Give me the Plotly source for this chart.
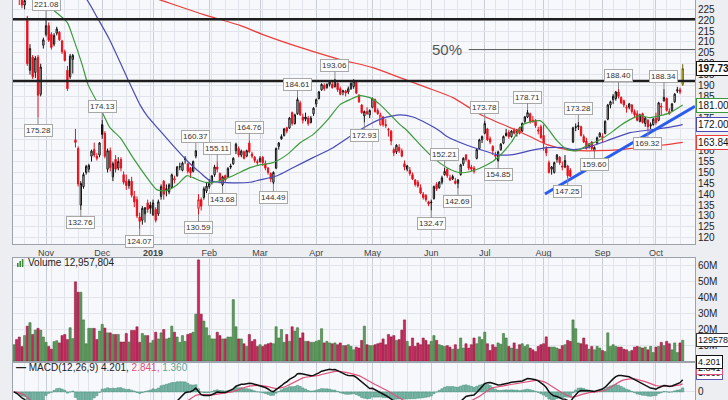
import numpy as np
import pandas as pd
import plotly.graph_objects as go
from plotly.subplots import make_subplots

# ---------------- trading calendar ----------------
HOLIDAYS = ["2018-11-22", "2018-12-05", "2018-12-25", "2019-01-01", "2019-01-21",
            "2019-02-18", "2019-04-19", "2019-05-27", "2019-07-04", "2019-09-02"]
DAYS = [d for d in pd.bdate_range("2018-10-16", "2019-10-15")
        if d.strftime("%Y-%m-%d") not in HOLIDAYS]

# ---------------- daily OHLC ----------------
open_ = [236, 241, 234, 230.5, 227, 221, 197, 203, 196, 203,
         186, 208.5, 213.5, 217.5, 213.5, 209, 214, 214.5, 210.5, 205.5,
         197, 194, 202, 165, 161, 135, 143.5, 150, 151.5, 157.5,
         160.5, 157.5, 158, 172, 168, 151.5, 160, 148, 156, 152,
         156, 149, 146, 144, 146, 139, 137.5, 129.5, 128, 131,
         136, 135, 130.5, 133, 131, 139, 146, 142, 141, 143,
         146.5, 148.5, 152.5, 151, 156.5, 154, 152, 150.5, 157.5, 133.5,
         137.5, 138.5, 141.5, 143.5, 145.5, 149, 152.5, 149.5, 144.5, 148.5,
         148, 153, 154, 160, 161, 158, 159.5, 157.5, 163.5, 158.5,
         157, 155, 155, 157, 154, 152, 149.5, 145.5, 152, 162,
         165.5, 167, 170.5, 170.5, 177.5, 172.5, 177, 182, 175.5, 175.5,
         175, 173, 177, 181.5, 184, 188, 190, 189, 190.5, 190.5,
         189.5, 191, 188.5, 187, 187.5, 187, 188.5, 189.5, 191.5, 185.5,
         181, 176, 178, 176.5, 180, 183.5, 178.5, 172, 175.5, 172,
         169.5, 169, 160.5, 159.5, 161.5, 160, 154, 151.5, 151, 149,
         146.5, 145.5, 143, 140, 139.5, 136.5, 136, 138, 144.5, 143,
         145.5, 149, 151.5, 147.5, 147, 146, 145, 149, 154, 158,
         155.5, 152.5, 152, 156.5, 161, 165, 168, 170, 165.5, 162,
         158, 155.5, 160.5, 163.5, 168, 168.5, 166.5, 169.5, 168, 170.5,
         169, 173.5, 175.5, 177, 174, 174, 169, 171, 167, 161,
         154.5, 151.5, 150, 156, 157, 153, 152.5, 153, 151, 164,
         171, 171, 171, 166.5, 164.5, 162, 164, 160, 163.5, 166.5,
         166, 168, 174.5, 181, 183.5, 184, 187, 184.5, 183, 179.5,
         180, 181, 178, 177, 173.5, 177, 172.5, 174, 172, 172,
         175, 174, 180, 183, 184, 178, 178.5, 182.5, 187.5, 188, 190.5]

high = [244, 242, 235, 232, 231, 222, 209, 204, 203.5, 204,
        200, 212, 221.08, 219, 214.5, 214, 217, 215, 211, 206.5,
        199, 204.5, 204.5, 170, 162, 146, 150, 153.5, 154, 160.5,
        163.7, 159, 164, 174.13, 169, 161, 161.5, 155, 158, 157,
        157, 150.5, 149, 147, 148, 141.5, 139, 131.5, 134.5, 134,
        137.5, 136.5, 137.5, 134, 137.5, 144.5, 146.5, 144.5, 145, 149.5,
        148.5, 153, 154.5, 155, 157.5, 154.5, 152.5, 155.5, 160.37, 140,
        138.5, 143.5, 145.5, 147, 148.5, 153.5, 155.11, 150, 148.5, 149,
        152.5, 154, 157, 163.7, 162, 160.5, 160, 160.5, 164.76, 159.5,
        157.5, 156, 157.5, 157.5, 155.5, 152.5, 150, 150.5, 161.5, 164,
        167.5, 170.5, 171, 175.5, 178, 177, 184.61, 183, 177, 177.5,
        176, 176, 180, 184, 187.5, 191, 191, 191, 192.5, 192,
        193.06, 191.5, 189.5, 188, 188, 189.5, 191.5, 192.9, 192, 186,
        181.5, 178.5, 180, 179, 184.5, 184, 179.5, 177.5, 176, 174.5,
        170.5, 169.5, 161.5, 163, 163, 161, 155.5, 153.5, 152.5, 150,
        147, 146.5, 144.5, 141, 140, 137, 137.5, 144, 145.5, 146,
        148.5, 152.21, 152, 149, 149, 147.5, 147, 154, 157, 158.5,
        156, 153.5, 153, 161, 165.5, 167, 173.78, 170.5, 166.5, 162.5,
        159.5, 160, 163.5, 167, 170, 169.5, 169.5, 170.5, 170, 171,
        173, 176, 178.71, 177.5, 176, 174.5, 171, 172, 172, 162,
        155.5, 153, 155, 158.5, 157.5, 155, 158, 153.5, 152, 171,
        172.5, 173.28, 171.5, 167.5, 166, 163.5, 164.5, 162, 166.5, 168.5,
        168, 174, 181.5, 183, 186, 187.5, 188.4, 185, 183.5, 181,
        182, 181.5, 179, 178.5, 177, 177.5, 175.5, 174.5, 173, 175,
        177.5, 182.5, 182, 188.34, 184.5, 179.5, 182, 186.5, 189.4, 189, 199.8]

low = [234, 233, 227, 225.5, 225, 199, 195, 193, 193.5, 175.28,
       185, 207, 212.5, 210, 206.5, 208, 213, 210.5, 204.5, 201,
       187.5, 193, 195.5, 161.5, 143.5, 132.76, 142.5, 149, 150, 155,
       157, 155.5, 157, 165.5, 156.5, 150, 150.5, 146, 150, 151,
       150.5, 144.5, 142, 142.5, 138.5, 134, 129, 124.07, 126, 127,
       131.5, 131, 130, 127, 130, 137.5, 137.5, 139, 140, 143,
       145, 148, 151, 150.5, 154, 149.5, 147.5, 150, 156.5, 130.59,
       132.5, 137.5, 140.5, 142.5, 144.5, 148, 150, 145, 143.68, 145.5,
       147.5, 151.5, 153.5, 158.5, 157, 157, 156, 157, 159, 156.5,
       154.5, 153.5, 154.5, 153, 151, 149, 145.5, 144.49, 151.5, 160.5,
       165, 166.5, 168, 170, 171.5, 172, 176.5, 176, 172.5, 173.5,
       171.5, 172.5, 176, 180, 183.5, 187.5, 187.5, 188.5, 189.5, 188.5,
       189, 187, 185.5, 185.5, 185, 186, 188, 188.5, 186, 182,
       177, 172.93, 176.5, 175, 179.5, 177.5, 176.5, 171.5, 171, 170.5,
       166.5, 162.5, 157.5, 158.5, 159, 157, 151, 150.5, 148.5, 146.5,
       143.5, 143, 140, 137.5, 136.5, 134.5, 132.47, 137.5, 141.5, 142.5,
       144.5, 148.5, 147.5, 146, 146.5, 144.5, 142.69, 148.5, 153, 155,
       151, 150.5, 149.5, 156, 160.5, 163.5, 167.5, 164.5, 163, 158,
       156, 154.85, 160, 163, 166.5, 165.5, 166, 167.5, 166.5, 167.5,
       168.5, 172.5, 175, 172.5, 173, 170.5, 167.5, 165.5, 160, 157.5,
       149.5, 149, 149.5, 154.5, 153.5, 151, 152, 147.25, 148, 163.5,
       169, 169.5, 166.5, 163.5, 160.5, 161, 160, 159.6, 163, 166,
       164, 167.5, 174, 179.5, 181.5, 183, 184, 181.5, 180, 177.5,
       179, 177, 175.5, 173.5, 173, 172.5, 171, 169.32, 170, 171.5,
       172, 173.5, 176.5, 182.5, 178, 176.5, 178, 182, 186.5, 186, 189.8]

close = [242, 236, 230.5, 227, 229, 200, 207, 194, 202.5, 185.5,
         198.5, 211, 217.5, 210.8, 207.5, 213, 216, 211, 205.5, 201.5,
         188.5, 203.5, 203.8, 163.8, 144.7, 144.9, 149, 152.8, 153.2, 159.8,
         158, 156.5, 163.5, 167.5, 157.5, 160, 152.2, 154, 151.5, 155,
         152, 145.5, 144, 146, 139.5, 136.5, 130, 127.5, 133.5, 133.8,
         133, 133.5, 136, 128, 136.5, 143.5, 140, 142.5, 144.3, 148.9,
         147.2, 152.5, 152.7, 154.3, 156, 150.5, 149.8, 155, 159.9, 137.5,
         134.5, 142.5, 143.7, 145, 148.5, 152.5, 151.5, 146.3, 148, 146.5,
         151.8, 152.5, 156.5, 163, 158, 159.8, 156.5, 160, 159.5, 157.5,
         155.5, 154.5, 156.5, 154.5, 152, 150, 147, 150, 161, 163.5,
         166.5, 170, 169, 175, 172.5, 176.5, 183.5, 176.5, 174, 174.5,
         172.5, 175, 179.5, 183.5, 187, 190.5, 188.5, 190.5, 191.5, 189,
         192.5, 188, 186, 187.5, 186.5, 188.5, 191, 192, 186.5, 182.5,
         177.5, 178, 177, 178.5, 184, 178, 177, 176.5, 172, 171.5,
         169.8, 164.5, 159, 162.5, 160, 157.5, 152.5, 153, 149.5, 147,
         144.5, 143.8, 140.5, 138.5, 137.5, 135.5, 136.3, 143.5, 142.5, 145.5,
         147.5, 150.5, 148.5, 146.5, 148.2, 145, 146.5, 153.5, 156.5, 156,
         152, 151.5, 150.5, 160.5, 165, 166.5, 172.5, 165, 164, 160,
         157.5, 159.5, 163, 166.5, 167, 166.5, 169, 168, 169.5, 168,
         172.5, 175.5, 177.5, 173.5, 173.2, 171.5, 169.5, 166, 163.5, 159,
         150, 152.5, 154.5, 158, 154.5, 152.5, 155.5, 148.5, 148.2, 170.5,
         170.8, 171.5, 167, 164, 161, 163, 161, 161.5, 166, 168,
         166.5, 173.5, 181, 182.5, 185, 187, 185, 182, 181, 180,
         181.5, 178, 176.5, 174, 176.5, 173, 175, 171, 171.5, 174.5,
         173, 182, 180.5, 184.5, 178.5, 177, 181.5, 186, 188, 187, 197.73]

# volume, millions of shares
volume_m = [10.2, 13.4, 15, 9, 15.9, 21.8, 24, 16.6, 19.3, 20.4,
            19.3, 15, 11.7, 9.1, 7.4, 12.1, 12.7, 11.3, 15.9, 16.6,
            13.4, 20.8, 14, 49.5, 43, 43, 25.7, 10.8, 20.4, 20.4,
            20.4, 13.4, 18.7, 22.9, 20.6, 17.6, 17.6, 16.6, 16.6, 16.6,
            11.9, 11.9, 17.2, 11.9, 19.1, 19.1, 21.4, 11.7, 17.2, 15.9,
            15.9, 11.3, 12.9, 18, 13.8, 17.6, 19.7, 13.8, 14.4, 21.8,
            18, 15, 11.7, 15.9, 12.3, 16.6, 17.2, 18, 29.3, 63.2,
            29.3, 25, 20.8, 15.9, 13.8, 13.8, 18, 15.9, 13.8, 13.8,
            15, 15, 38.4, 21.4, 13.8, 13.8, 10.8, 9.1, 16.6, 12.3,
            13.4, 9.1, 10.2, 9.1, 10.2, 10.8, 11.3, 10.8, 21.4, 14.4,
            19.7, 11.7, 16.6, 12.3, 21.4, 18.7, 20.8, 14.4, 17.6, 12.3,
            12.3, 11.7, 11.7, 12.3, 12.9, 20.2, 11.3, 12.3, 11.3, 10.8,
            11.3, 10.2, 11.3, 9.6, 9.6, 10.2, 9.1, 7, 8.7, 8.1,
            12.9, 21.8, 10.2, 9.6, 9.6, 10.2, 10.8, 11.3, 13.8, 10.2,
            16.6, 15.1, 15.9, 12.9, 13.4, 19.3, 25.7, 12.3, 9.1, 14.4,
            9.1, 11.3, 10.2, 14.4, 12.9, 10.2, 12.3, 15.9, 12.9, 10.2,
            9.6, 9.1, 9.6, 8.7, 7.4, 10.2, 7.4, 14.4, 8.1, 10.8,
            8.1, 10.2, 14.4, 10.8, 15.1, 13.4, 18, 10.8, 6.6, 10.2,
            8.7, 11.3, 10.5, 17.2, 14.4, 9.1, 8.1, 11.3, 7.4, 10.2,
            10.8, 9.1, 10.2, 8.1, 7, 5.9, 9.1, 10.2, 10.8, 15.1,
            8.7, 8.7, 8.7, 8.1, 7.4, 9.6, 10.2, 12.9, 12.3, 25.7,
            20.2, 11.3, 10.8, 14.4, 10.2, 7.4, 9.1, 7, 9.1, 8.1,
            6.6, 5.9, 17.6, 9.1, 10.2, 9.1, 8.7, 8.7, 7.4, 7,
            5.9, 6.6, 8.7, 9.1, 8.7, 8.1, 8.7, 7, 9.1, 5.3,
            8.7, 9.1, 11.7, 9.6, 12.3, 10.8, 7, 11.3, 5.3, 11.3, 12.957804]

# moving averages (trading-day position, value)
ma20_x = [3, 9.4, 13.5, 19.9, 22.1, 25.5, 27.7, 32.2, 35.9, 39.7, 44.5, 49.8, 53.5, 57.2,
          61, 64.7, 67, 69.6, 72.6, 77, 81.9, 88.3, 92, 96.8, 102.1, 107, 111.8, 117,
          121.9, 125.6, 129.4, 133.1, 136.9, 140.6, 144.3, 147, 151.8, 156.7, 161.9,
          166.8, 171.6, 176.9, 181, 186, 190.3, 196.7, 199.3, 203, 206.8, 210.5, 214.2,
          219.1, 224, 226.6, 230.3, 234, 237.8, 241.5, 245.3, 250]
ma20_y = [240, 230.5, 225.9, 219, 212, 199.6, 190.4, 179.8, 170.6, 166, 156.8, 147.5, 142, 141.6,
          144.3, 148.5, 147.6, 146.2, 145.3, 146.2, 148.5, 152.2, 153.5, 154.5, 158.2, 163.7, 167.4, 173.8,
          181.2, 183.5, 185.3, 184.4, 181.2, 176.6, 172, 169.2, 162.8, 156.8, 152.2,
          149.9, 150.8, 153.5, 157, 164, 172, 173.8, 170.6, 164.6, 160.5, 160, 162.3,
          165, 169, 171.5, 174.3, 176.1, 175.2, 176.1, 177.5, 181.0]
ma50_x = [3, 26.6, 31.1, 35.9, 42.3, 47.1, 49.8, 54.6, 59.5, 64.7, 69.6, 73.3, 79.7, 88.3,
          92, 98.4, 104.3, 111.8, 119.3, 125.6, 132, 138, 144.3, 149.2, 154.4, 159.3, 161.9,
          169.4, 176.9, 180.5, 186.5, 192.9, 199.3, 205.3, 209, 214.2, 221.7, 230.3, 238.9, 244.1, 250]
ma50_y = [252, 230.5, 221.3, 210.7, 193.6, 181.2, 176, 169.2, 162.3, 155.4, 149.9, 146.2, 145.3, 145.5,
          146.6, 148.5, 152.2, 156.8, 161.4, 166.5, 171.5, 175, 176.5, 175.5, 172.5, 169, 166.5,
          162.5, 159.5, 158.2, 158.2, 160, 161.4, 161.4, 160.5, 161.4, 164.6, 168.3, 169.7, 170.6, 172.0]
ma200_x = [3, 30, 51.7, 70.7, 84.5, 93.1, 107, 122, 134.2, 144.3, 154.4, 164.1, 174.2, 185.5,
           192.9, 199.3, 206.8, 211.6, 218, 226.6, 236.7, 244.1, 250]
ma200_y = [246, 238, 230.5, 222.7, 217.6, 213.4, 207.5, 201.9, 198.2, 193.6, 189, 184.4, 176.8, 170.6,
           166.5, 162.8, 160.5, 160, 160, 160.5, 161.8, 162.8, 163.84]

# annotated swing highs / lows (day position, kind)
HL_MARKS = [(9, "L"), (12, "H"), (25, "L"), (33, "H"), (47, "L"), (68, "H"), (69, "L"),
            (76, "H"), (78, "L"), (88, "H"), (97, "L"), (106, "H"), (120, "H"), (131, "L"),
            (156, "L"), (161, "H"), (166, "L"), (176, "H"), (181, "L"), (192, "H"),
            (207, "L"), (211, "H"), (217, "L"), (226, "H"), (237, "L"), (243, "H")]

LEVELS = [220.4, 192.1]           # horizontal resistance lines
FIB_LEVEL = 206.5                 # 50% line
FIB_START = 170
TREND_X = [198.5, 254.6]          # rising trendline
TREND_Y = [140.1, 180.4]
MACD_TEXT = ["4.201", "2.841", "1.360"]
PRICE_TICKS = list(range(120, 231, 5))
HIDDEN_TICKS = [165, 170, 180]    # covered by the value boxes in the original

# ---------------- styling ----------------
RED = "#e8101c"
BLACK = "#111111"
BG = "#f7f8fb"
GRID = "#e1e4ea"
GRID_M = "#c9cdd5"
FONT = "Liberation Sans"
VOL_G, VOL_G_L = "#5f9c5f", "#2f6a2f"
VOL_R, VOL_R_L = "#c42a5e", "#85102f"

n = len(close)
xs = list(range(n))
XMIN, XMAX = -0.35, 254.6

month_starts = [i for i in range(1, n) if DAYS[i].month != DAYS[i - 1].month]
month_text = ["<b>2019</b>" if DAYS[i].month == 1 else DAYS[i].strftime("%b") for i in month_starts]
week_starts = [i for i in range(1, n) if DAYS[i].weekday() < DAYS[i - 1].weekday()]

fig = make_subplots(rows=3, cols=1, shared_xaxes=True, vertical_spacing=0.0)

last = n - 1
down_i = [i for i in range(1, last) if close[i] < close[i - 1]]
up_i = [i for i in range(0, last) if i == 0 or close[i] >= close[i - 1]]


def sel(arr, ids):
    return [arr[i] for i in ids]


for ids, col in ((up_i, BLACK), (down_i, RED)):
    fig.add_trace(go.Candlestick(
        x=ids, open=sel(open_, ids), high=sel(high, ids), low=sel(low, ids), close=sel(close, ids),
        increasing=dict(line=dict(color=col, width=1), fillcolor="#ffffff"),
        decreasing=dict(line=dict(color=col, width=1), fillcolor=col),
        whiskerwidth=0, showlegend=False, hoverinfo="skip"), row=1, col=1)

fig.add_trace(go.Candlestick(
    x=[last], open=[open_[last]], high=[high[last]], low=[low[last]], close=[close[last]],
    increasing=dict(line=dict(color="#6b6200", width=1), fillcolor="#f4e64a"),
    decreasing=dict(line=dict(color="#6b6200", width=1), fillcolor="#f4e64a"),
    showlegend=False, hoverinfo="skip"), row=1, col=1)

for mx, my, col in ((ma200_x, ma200_y, "#ee3b3b"), (ma50_x, ma50_y, "#4a4ab8"), (ma20_x, ma20_y, "#3c9a3c")):
    fig.add_trace(go.Scatter(x=mx, y=my, mode="lines", line=dict(color=col, width=1.2, shape="spline", smoothing=0.6),
                             showlegend=False, hoverinfo="skip"), row=1, col=1)

fig.add_trace(go.Scatter(x=TREND_X, y=TREND_Y, mode="lines", line=dict(color="#2a5cf0", width=3),
                         showlegend=False, hoverinfo="skip"), row=1, col=1)

# volume
vol_up = [i == 0 or close[i] >= close[i - 1] for i in xs]
fig.add_trace(go.Bar(x=xs, y=volume_m,
                     marker=dict(color=[VOL_G if u else VOL_R for u in vol_up],
                                 line=dict(color=[VOL_G_L if u else VOL_R_L for u in vol_up], width=0.5)),
                     showlegend=False, hoverinfo="skip"), row=2, col=1)

# MACD(12,26,9) computed from the closes
cs = pd.Series(close)
macd = cs.ewm(span=12, adjust=False).mean() - cs.ewm(span=26, adjust=False).mean()
signal = macd.ewm(span=9, adjust=False).mean()
hist = macd - signal
fig.add_trace(go.Bar(x=xs, y=hist, marker=dict(color="#7db9a9", line=dict(color="#3a8875", width=0.5)),
                     showlegend=False, hoverinfo="skip"), row=3, col=1)
fig.add_trace(go.Scatter(x=xs, y=signal, mode="lines", line=dict(color="#e0507a", width=1.2),
                         showlegend=False, hoverinfo="skip"), row=3, col=1)
fig.add_trace(go.Scatter(x=xs, y=macd, mode="lines", line=dict(color="#111111", width=1.5),
                         showlegend=False, hoverinfo="skip"), row=3, col=1)

# ---------------- axes ----------------
xcommon = dict(range=[XMIN, XMAX], tickmode="array", tickvals=month_starts, ticktext=month_text,
               showgrid=True, gridcolor=GRID_M, gridwidth=1, ticks="", zeroline=False,
               showline=True, mirror=True, linecolor="#9da3ad", linewidth=1,
               minor=dict(tickmode="array", tickvals=week_starts, showgrid=True, gridcolor=GRID, ticks=""),
               rangeslider=dict(visible=False), showticklabels=False,
               tickfont=dict(family=FONT, size=9, color="#444"))
fig.update_layout(xaxis=xcommon, xaxis2=xcommon, xaxis3=xcommon)
fig.update_layout(xaxis=dict(showticklabels=True))

ycommon = dict(side="right", showline=True, mirror=True, linecolor="#9da3ad", linewidth=1,
               gridcolor=GRID, zeroline=False, ticks="", tickfont=dict(family=FONT, size=10, color="#222"))
fig.update_layout(
    yaxis=dict(ycommon, domain=[0.39, 1.0], range=[117.1, 229.3], tickmode="array",
               tickvals=PRICE_TICKS, ticktext=["" if t in HIDDEN_TICKS else str(t) for t in PRICE_TICKS]),
    yaxis2=dict(ycommon, domain=[0.0975, 0.355], range=[0, 64.4], tickmode="array",
                tickvals=[10, 20, 30, 40, 50, 60], ticktext=["10M", "20M", "30M", "40M", "50M", "60M"]),
    yaxis3=dict(ycommon, domain=[0.0, 0.0925], range=[-2.9, 10.4], tickmode="array",
                tickvals=[0], ticktext=["0"], showgrid=True),
)

# ---------------- shapes ----------------
shapes = []
for lv in LEVELS:
    shapes.append(dict(type="line", xref="x domain", yref="y", x0=0, x1=1, y0=lv, y1=lv,
                       line=dict(color="#1e1e1e", width=2.5)))
shapes.append(dict(type="line", xref="x", yref="y", x0=FIB_START, x1=XMAX, y0=FIB_LEVEL, y1=FIB_LEVEL,
                   line=dict(color="#555", width=1)))
# volume icon
for k, hgt in enumerate([4, 6, 8]):
    shapes.append(dict(type="rect", xref="paper", yref="paper",
                       x0=(17 + k * 2.4 - 13) / 682, x1=(18.6 + k * 2.4 - 13) / 682,
                       y0=1 - 267 / 400, y1=1 - (267 - hgt) / 400,
                       fillcolor="#3f8a3f", line=dict(width=0)))
fig.update_layout(shapes=shapes)

# ---------------- annotations ----------------
ann = []
for i, kind in HL_MARKS:
    val = high[i] if kind == "H" else low[i]
    ann.append(dict(x=i, y=val, xref="x", yref="y", text=f"{val:.2f}", showarrow=True,
                    arrowhead=0, arrowwidth=1, arrowcolor="#8a8a8a", ax=0, ay=-13 if kind == "H" else 13,
                    font=dict(family=FONT, size=8, color="#333"), bgcolor="#fdfdfd",
                    bordercolor="#a8a8a8", borderwidth=1, borderpad=1))
ann.append(dict(x=(FIB_START - 8), y=FIB_LEVEL, xref="x", yref="y", text="50%", showarrow=False,
                font=dict(family=FONT, size=15, color="#555")))


def side_box(y, yref, text, border, bold=False, size=10):
    return dict(x=1, y=y, xref="paper", yref=yref, xanchor="left", xshift=1, text=(f"<b>{text}</b>" if bold else text),
                showarrow=False, font=dict(family=FONT, size=size, color="#111"), bgcolor="#ffffff",
                bordercolor=border, borderwidth=1, borderpad=1)


ann.append(side_box(close[-1], "y", f"{close[-1]:.2f}", "#111", bold=True))
ann.append(side_box(ma20_y[-1], "y", f"{ma20_y[-1]:.2f}", "#3c9a3c"))
ann.append(side_box(ma50_y[-1], "y", f"{ma50_y[-1]:.2f}", "#4a4ab8"))
ann.append(side_box(ma200_y[-1], "y", f"{ma200_y[-1]:.2f}", "#ee3b3b"))
ann.append(side_box(volume_m[-1], "y2", f"{round(volume_m[-1] * 1e6)}", "#333", size=9))
# stacked MACD value tags (paper positions of the original's tag stack)
for txt, border, py in ((MACD_TEXT[2], "#5a5ab8", 380), (MACD_TEXT[1], "#e0507a", 374.5), (MACD_TEXT[0], "#111", 369)):
    b = side_box(1 - py / 400, "paper", txt, border, size=9)
    ann.append(b)

ann.append(dict(x=(26 - 13) / 682, y=1 - 262 / 400, xref="paper", yref="paper", xanchor="left", yanchor="middle",
                text=f"Volume {round(volume_m[-1] * 1e6):,}", showarrow=False,
                font=dict(family=FONT, size=10, color="#222")))
ann.append(dict(x=(14 - 13) / 682, y=1 - 367.5 / 400, xref="paper", yref="paper", xanchor="left", yanchor="middle",
                text=(f"<b>—</b> MACD(12,26,9) {MACD_TEXT[0]}, <span style='color:#e0507a'>{MACD_TEXT[1]},</span> "
                      f"<span style='color:#5aa89a'>{MACD_TEXT[2]}</span>"),
                showarrow=False, font=dict(family=FONT, size=10, color="#222")))
fig.update_layout(annotations=ann)

fig.update_layout(width=728, height=400, margin=dict(l=13, r=33, t=0, b=0),
                  paper_bgcolor="#eceef2", plot_bgcolor=BG, bargap=0.18,
                  showlegend=False, font=dict(family=FONT))

fig.write_html("out.html")
